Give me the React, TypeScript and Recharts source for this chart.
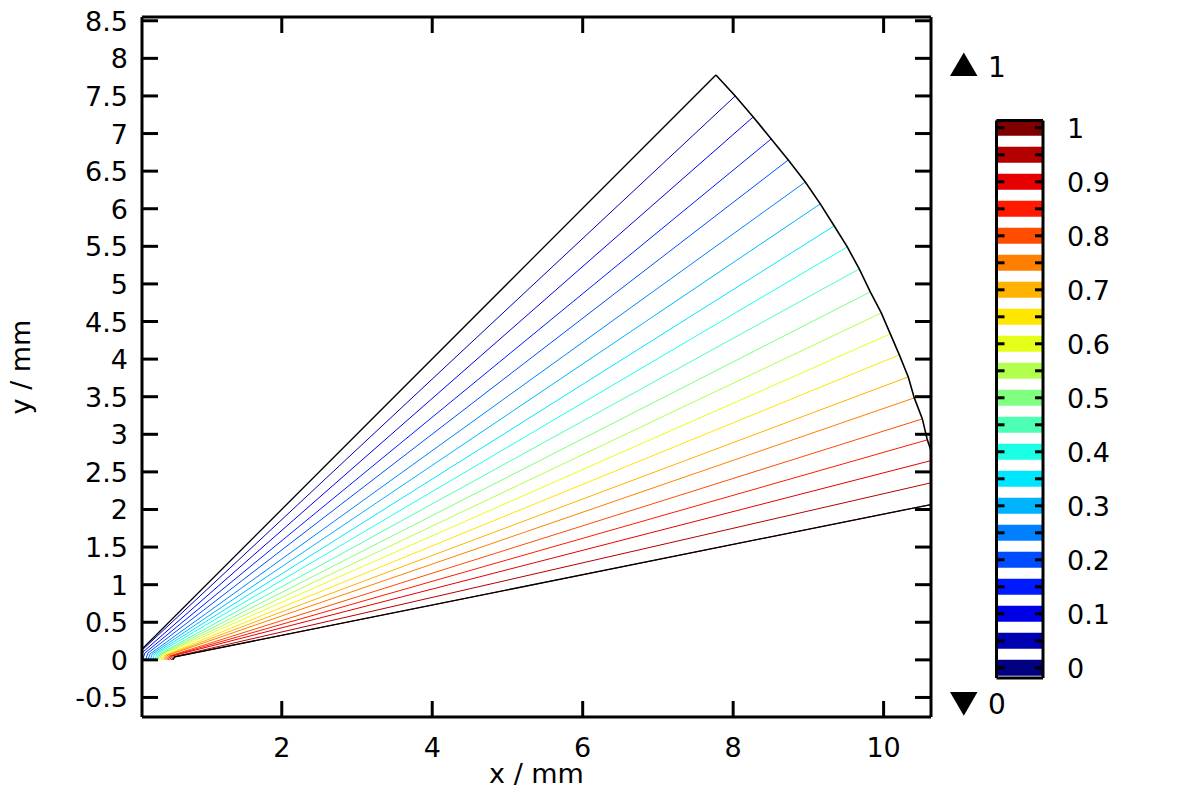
import React from 'react';
import { ComposedChart, Line, XAxis, YAxis, ReferenceArea } from 'recharts';

const FONT = '"DejaVu Sans", sans-serif';

// contour levels (0 .. 1, step 0.05)
const levels = [0, 0.05, 0.1, 0.15, 0.2, 0.25, 0.3, 0.35, 0.4, 0.45, 0.5, 0.55, 0.6, 0.65, 0.7, 0.75, 0.8, 0.85, 0.9, 0.95, 1];
const levelColors = [
  '#000080', '#0000b3', '#0000e6', '#001aff', '#004dff', '#0080ff', '#00b3ff', '#00e6ff', '#1affe6', '#4dffb3',
  '#80ff80', '#b3ff4d', '#e6ff1a', '#ffe600', '#ffb300', '#ff8000', '#ff4d00', '#ff1a00', '#e60000', '#b30000', '#800000',
];
// contour start on y = 0 (mm)
const startX = [0, 0.06, 0.11, 0.15, 0.19, 0.22, 0.25, 0.28, 0.31, 0.33, 0.35, 0.37, 0.39, 0.41, 0.43, 0.45, 0.47, 0.49, 0.51, 0.53, 0.55];
// bend point near the inner corner (mm)
const kneeX = [0.1, 0.09, 0.14, 0.18, 0.22, 0.25, 0.28, 0.31, 0.34, 0.36, 0.38, 0.4, 0.42, 0.44, 0.46, 0.48, 0.5, 0.52, 0.54, 0.56, 0.58];
const kneeY = [0.1, 0.08, 0.09, 0.09, 0.09, 0.08, 0.08, 0.08, 0.08, 0.07, 0.07, 0.07, 0.07, 0.06, 0.06, 0.06, 0.05, 0.05, 0.05, 0.04, 0.04];
// contour end on the outer arc (mm)
const endX = [7.771, 8.028, 8.267, 8.506, 8.733, 8.959, 9.158, 9.344, 9.517, 9.676, 9.823, 9.969, 10.089, 10.209, 10.328, 10.408, 10.515, 10.581, 10.673, 10.74, 10.8];
const endY = [7.779, 7.5, 7.221, 6.928, 6.649, 6.356, 6.064, 5.771, 5.492, 5.199, 4.894, 4.614, 4.335, 4.056, 3.763, 3.484, 3.205, 2.926, 2.661, 2.38, 2.1];

const xTicks = [2, 4, 6, 8, 10];
const yTicks = [-0.5, 0, 0.5, 1, 1.5, 2, 2.5, 3, 3.5, 4, 4.5, 5, 5.5, 6, 6.5, 7, 7.5, 8, 8.5];
const xDomain = [0.142, 10.63];
const yDomain = [-0.76, 8.55];
const barDomain = [-0.0189, 1.0135];
const barHalf = 0.0148;
const barAnchor = [{ x: 0, y: 0 }, { x: 1, y: 1 }];

const contours = levels.map((_, i) => [
  { x: startX[i], y: 0 },
  { x: kneeX[i], y: kneeY[i] },
  { x: endX[i], y: endY[i] },
]);
const outerArc = levels.map((_, i) => ({ x: endX[i], y: endY[i] }));

const fmt = (v: number) => String(v);

const BottomTick = (p: any) => (
  <g>
    <line x1={p.x} y1={p.y} x2={p.x} y2={p.y - 16} stroke="#000" strokeWidth={3} />
    <text x={p.x} y={p.y + 40} textAnchor="middle" fontFamily={FONT} fontSize={27} fill="#000">{fmt(p.payload.value)}</text>
  </g>
);
const TopTick = (p: any) => (
  <line x1={p.x} y1={p.y} x2={p.x} y2={p.y + 16} stroke="#000" strokeWidth={3} />
);
const LeftTick = (p: any) => (
  <g>
    <line x1={p.x} y1={p.y} x2={p.x + 16} y2={p.y} stroke="#000" strokeWidth={3} />
    <text x={p.x - 14} y={p.y + 10} textAnchor="end" fontFamily={FONT} fontSize={27} fill="#000">{fmt(p.payload.value)}</text>
  </g>
);
const RightTick = (p: any) => (
  <line x1={p.x} y1={p.y} x2={p.x - 16} y2={p.y} stroke="#000" strokeWidth={3} />
);
const BarLeftTick = (p: any) => (
  <line x1={p.x} y1={p.y} x2={p.x + 8} y2={p.y} stroke="#000" strokeWidth={3} />
);
const BarRightTick = (p: any) => (
  <g>
    <line x1={p.x} y1={p.y} x2={p.x - 8} y2={p.y} stroke="#000" strokeWidth={3} />
    {p.index % 2 === 0 ? (
      <text x={p.x + 24} y={p.y + 10} textAnchor="start" fontFamily={FONT} fontSize={27} fill="#000">{fmt(p.payload.value)}</text>
    ) : null}
  </g>
);

const axisLine = { stroke: '#000', strokeWidth: 3 };

export default function App() {
  return (
    <div style={{ position: 'absolute', left: 0, top: 0, width: 1200, height: 800, background: '#fff' }}>
      <div style={{ position: 'absolute', left: 0, top: 0 }}>
        <ComposedChart width={1200} height={800} margin={{ top: 16, right: 268, bottom: 23, left: 42 }}>
          <XAxis type="number" dataKey="x" domain={xDomain} allowDataOverflow ticks={xTicks} interval={0}
            height={60} tickSize={0} tickMargin={0} tickLine={false} axisLine={axisLine} tick={BottomTick} />
          <XAxis xAxisId="top" orientation="top" type="number" dataKey="x" domain={xDomain} allowDataOverflow ticks={xTicks} interval={0}
            height={1} tickSize={0} tickMargin={0} tickLine={false} axisLine={axisLine} tick={TopTick} />
          <YAxis type="number" dataKey="y" domain={yDomain} allowDataOverflow ticks={yTicks} interval={0}
            width={100} tickSize={0} tickMargin={0} tickLine={false} axisLine={axisLine} tick={LeftTick} />
          <YAxis yAxisId="right" orientation="right" type="number" dataKey="y" domain={yDomain} allowDataOverflow ticks={yTicks} interval={0}
            width={1} tickSize={0} tickMargin={0} tickLine={false} axisLine={axisLine} tick={RightTick} />
          {contours.map((pts, i) => (
            <Line key={'c' + i} data={pts} dataKey="y" stroke={levelColors[i]} strokeWidth={1}
              dot={false} activeDot={false} isAnimationActive={false} legendType="none" />
          ))}
          <Line data={contours[0]} dataKey="y" stroke="#000" strokeWidth={1.3} dot={false} activeDot={false} isAnimationActive={false} />
          <Line data={contours[levels.length - 1]} dataKey="y" stroke="#000" strokeWidth={1.3} dot={false} activeDot={false} isAnimationActive={false} />
          <Line data={outerArc} dataKey="y" stroke="#000" strokeWidth={1.6} dot={false} activeDot={false} isAnimationActive={false} />
          <Line data={outerArc} dataKey="y" xAxisId="top" yAxisId="right" stroke="none" strokeWidth={0} dot={false} activeDot={false} isAnimationActive={false} />
        </ComposedChart>
      </div>
      <div style={{ position: 'absolute', left: 950, top: 40 }}>
        <ComposedChart width={200} height={700} margin={{ top: 79.5, right: 106, bottom: 61, left: 45.5 }}>
          <XAxis xAxisId="b" type="number" dataKey="x" domain={[0, 1]} allowDataOverflow height={1} tick={false} tickLine={false} axisLine={axisLine} />
          <XAxis xAxisId="t" orientation="top" type="number" dataKey="x" domain={[0, 1]} allowDataOverflow height={1} tick={false} tickLine={false} axisLine={axisLine} />
          <YAxis yAxisId="l" type="number" dataKey="y" domain={barDomain} allowDataOverflow ticks={levels} interval={0}
            width={1} tickSize={0} tickMargin={0} tickLine={false} axisLine={axisLine} tick={BarLeftTick} />
          <YAxis yAxisId="r" orientation="right" type="number" dataKey="y" domain={barDomain} allowDataOverflow ticks={levels} interval={0}
            width={1} tickSize={0} tickMargin={0} tickLine={false} axisLine={axisLine} tick={BarRightTick} />
          {levels.map((v, i) => (
            <ReferenceArea key={'b' + i} xAxisId="b" yAxisId="l" y1={v - barHalf} y2={v + barHalf}
              fill={levelColors[i]} fillOpacity={1} stroke="none" ifOverflow="visible" />
          ))}
          <Line data={barAnchor} dataKey="y" xAxisId="b" yAxisId="l" stroke="none" strokeWidth={0} dot={false} activeDot={false} isAnimationActive={false} />
          <Line data={barAnchor} dataKey="y" xAxisId="t" yAxisId="r" stroke="none" strokeWidth={0} dot={false} activeDot={false} isAnimationActive={false} />
        </ComposedChart>
      </div>
      <svg width={1200} height={800} style={{ position: 'absolute', left: 0, top: 0, pointerEvents: 'none' }}>
        <polygon points="950,76 977.5,76 963.8,52.5" fill="#000" />
        <text x={988} y={76.5} fontFamily={FONT} fontSize={28} fill="#000">1</text>
        <polygon points="950,692 977.5,692 963.8,715.7" fill="#000" />
        <text x={988} y={713.5} fontFamily={FONT} fontSize={28} fill="#000">0</text>
        <text x={536.5} y={783} textAnchor="middle" fontFamily={FONT} fontSize={27} fill="#000">x / mm</text>
        <text x={30} y={367} textAnchor="middle" fontFamily={FONT} fontSize={27} fill="#000" transform="rotate(-90 30 367)">y / mm</text>
      </svg>
    </div>
  );
}
